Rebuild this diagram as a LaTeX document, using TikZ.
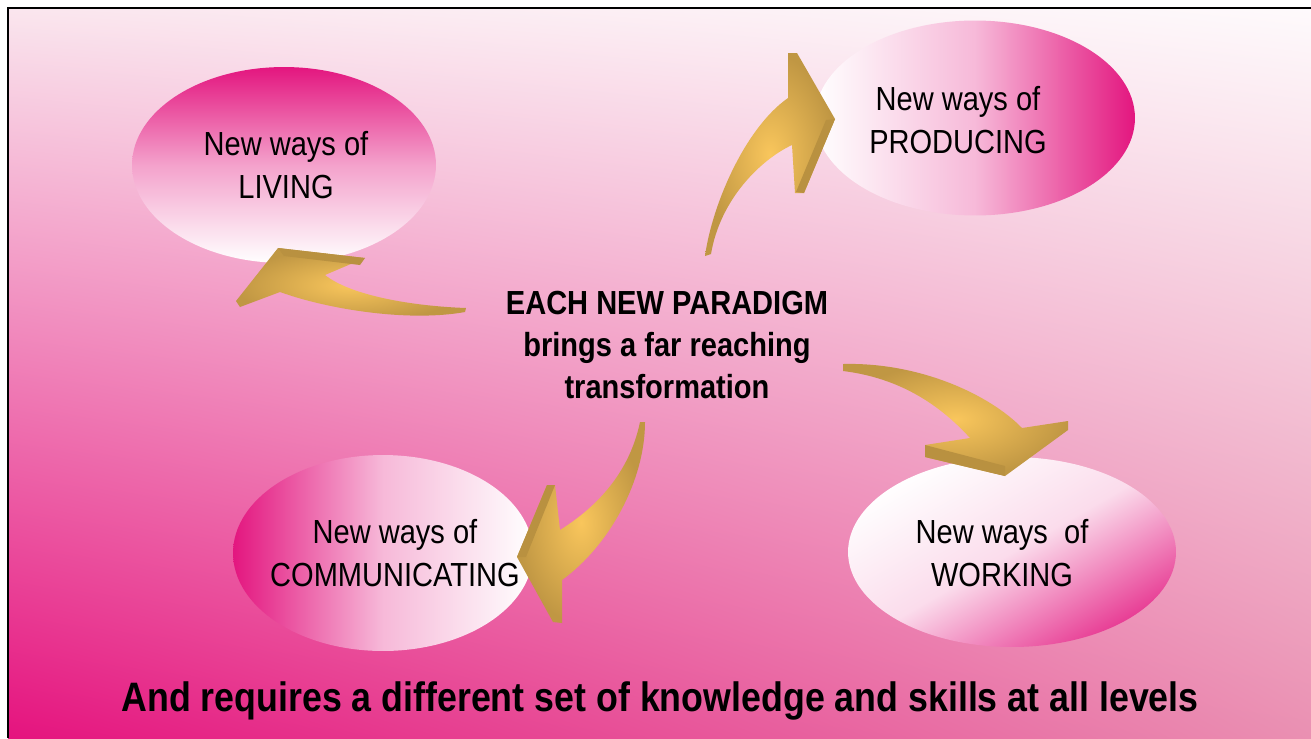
\documentclass[tikz,border=0pt]{standalone}
\usepackage{fontspec}
\setmainfont{Liberation Sans}[FakeStretch=0.87]
\usepackage{tikz}
\usetikzlibrary{shapes.geometric,shadings,positioning}

\definecolor{waypink}{HTML}{E3167F}
\definecolor{bgtopleft}{HTML}{FAE6EE}
\definecolor{bgtopright}{HTML}{FEFAFC}
\definecolor{bgbotleft}{HTML}{E5137E}
\definecolor{bgbotright}{HTML}{EA90B2}
\definecolor{goldlight}{HTML}{F9C65C}
\definecolor{golddark}{HTML}{B28B3D}

\begin{document}
\begin{tikzpicture}[x=0.02cm, y=-0.02cm]
        \tikzstyle{way}=[ellipse, draw=none, inner sep=0pt]
        \tikzstyle{waytext}=[align=center, inner sep=0pt, font=\fontsize{19pt}{24.5pt}\selectfont]
        \tikzstyle{goldarrow}=[inner color=goldlight, outer color=golddark!80!goldlight]
        \tikzstyle{goldedge}=[fill=golddark!90!goldlight]

        \useasboundingbox (0,0) rectangle (1311,738);
        \shade[upper left=bgtopleft, upper right=bgtopright,
               lower left=bgbotleft, lower right=bgbotright] (8,8) rectangle (1311,738);
        \draw[line width=1.6pt] (8,738) -- (8,8) -- (1311,8);

        \node[way, minimum width=6.08cm, minimum height=3.92cm,
              top color=waypink, bottom color=white, middle color=waypink!40] (living) at (284,165) {};
        \node[way, minimum width=6.4cm, minimum height=3.9cm,
              left color=white, right color=waypink, middle color=waypink!30] (producing) at (975,118) {};
        \node[way, minimum width=6.0cm, minimum height=3.92cm,
              left color=waypink, right color=white, middle color=waypink!30] (communicating) at (383,553) {};
        \node[way, minimum width=6.56cm, minimum height=3.8cm,
              top color=white, bottom color=waypink!85, middle color=waypink!15,
              shading angle=30] (working) at (1012,552) {};

        \node[waytext] (livingtxt) at ([shift={(2,0)}]living.center) {New ways of\\LIVING};
        \node[waytext] (producingtxt) at ([shift={(-17,2)}]producing.center) {New ways of\\PRODUCING};
        \node[waytext] (communicatingtxt) at ([shift={(12,0)}]communicating.center) {New ways of\\COMMUNICATING};
        \node[waytext] (workingtxt) at ([shift={(-10,1)}]working.center) {New ways~~of\\WORKING};

        \node[waytext, font=\bfseries\fontsize{19pt}{24pt}\selectfont] (paradigm) at (667,345)
            {EACH NEW PARADIGM\\brings a far reaching\\transformation};
        \node[inner sep=0pt, font=\bfseries\fontsize{23.4pt}{28pt}\selectfont] (levels) at (660,701)
            {And requires a different set of knowledge and skills at all levels};

        % living
        \shade[goldarrow] (466,308) .. controls (410,306) and (350,295) .. (325,275)
            -- (365,258) -- (278,248) -- (236,301) -- (240,307)
            -- (280,292) .. controls (330,310) and (410,322) .. (465,312) -- cycle;
        \path[goldedge] (278,248) -- (365,258) -- (360,265) -- (284,256) -- cycle;
        % producing
        \shade[goldarrow] (705,256) .. controls (712,205) and (745,128) .. (788,98)
            -- (788,53) -- (797,53) -- (835,119) -- (804,193) -- (795,193)
            -- (792,145) .. controls (760,160) and (720,200) .. (711,254) -- cycle;
        \path[goldedge] (835,119) -- (804,193) -- (796,192) -- (826,120) -- cycle;
        % working
        \shade[goldarrow] (843,364) .. controls (920,362) and (990,395) .. (1022,428)
            -- (1068,421) -- (1068,430) -- (1005,476) -- (925,457) -- (925,445)
            -- (970,438) .. controls (940,405) and (900,378) .. (843,371) -- cycle;
        \path[goldedge] (925,445) -- (1005,466) -- (1005,476) -- (925,457) -- cycle;
        % communicating
        \shade[goldarrow] (645,422) .. controls (645,480) and (610,545) .. (562,580)
            -- (562,623) -- (553,622) -- (517,557) -- (547,485) -- (555,485)
            -- (560,530) .. controls (600,505) and (630,470) .. (640,422) -- cycle;
        \path[goldedge] (547,485) -- (555,485) -- (526,557) -- (517,557) -- cycle;
    \end{tikzpicture}
\end{document}
